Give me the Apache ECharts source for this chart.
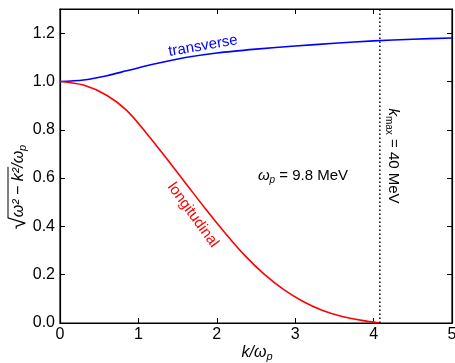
<!DOCTYPE html>
<html>
<head>
<meta charset="utf-8">
<script src="https://cdn.jsdelivr.net/npm/echarts@6/dist/echarts.min.js"></script>
<style>
html,body{margin:0;padding:0;background:#fff;}
#c{width:455px;height:363px;}
</style>
</head>
<body>
<div id="c"></div>
<script>
// ---- data ----
const kTransverse = [0, 0.3, 0.6, 0.85, 1.2, 1.6, 2.0, 2.5, 3.0, 3.5, 4.0, 4.5, 5.0];
const vTransverse = [1.000, 1.006, 1.024, 1.044, 1.072, 1.099, 1.118, 1.134, 1.147, 1.158, 1.168, 1.175, 1.180];
const kLongitudinal = [0, 0.3, 0.6, 0.85, 1.1, 1.35, 1.6, 1.85, 2.1, 2.35, 2.6, 2.85, 3.1, 3.35, 3.6, 3.85, 4.08];
const vLongitudinal = [1.0, 0.985, 0.942, 0.88, 0.787, 0.685, 0.58, 0.475, 0.375, 0.282, 0.203, 0.139, 0.089, 0.052, 0.027, 0.011, 0.0];
const kMax = [4.08];
const xRange = [0, 5];
const yRange = [0, 1.3];

const FAM = '"Liberation Sans", Arial, Helvetica, sans-serif';
const cv = document.createElement('canvas').getContext('2d');
function fontStr(p){ return (p.italic ? 'italic ' : '') + p.size + 'px ' + FAM; }
function measure(p){ cv.font = fontStr(p); return cv.measureText(p.t).width; }

function mathLabel(parts, cx, cy, rot, color, overlineIdx){
  const widths = parts.map(measure);
  const W = widths.reduce((a,b)=>a+b,0);
  let x = -W/2;
  const children = [];
  parts.forEach((p,i)=>{
    children.push({
      type:'text',
      style:{text:p.t, x:x, y:(p.dy||0), font:fontStr(p), fill:color,
             align:'left', verticalAlign:'middle', textAlign:'left', textVerticalAlign:'middle'}
    });
    if (overlineIdx === i){
      children.push({type:'line', shape:{x1:x-1, y1:-11, x2:x+widths[i]+1, y2:-11},
        style:{stroke:color, lineWidth:1}});
    }
    x += widths[i];
  });
  return {type:'group', x:cx, y:cy, rotation:rot, children:children, silent:true};
}

const chart = echarts.init(document.getElementById('c'), null, {renderer:'canvas'});

function axis(extra){
  return Object.assign({
    type:'value', gridIndex:0,
    axisLine:{show:true, onZero:false, lineStyle:{color:'#000', width:1.2}},
    axisTick:{show:true, inside:true, length:5, lineStyle:{color:'#000', width:1}},
    splitLine:{show:false}
  }, extra);
}

const option = {
  animation:false,
  backgroundColor:'#fff',
  grid:{left:60, right:3, top:9, bottom:40, containLabel:false, outerBoundsMode:'none',
        show:true, borderColor:'#000', borderWidth:1.2, backgroundColor:'transparent'},
  xAxis:[
    axis({min:xRange[0], max:xRange[1], interval:1, position:'bottom',
      axisLabel:{show:true, color:'#000', fontSize:16, fontFamily:FAM, margin:4, hideOverlap:false}}),
    axis({min:xRange[0], max:xRange[1], interval:1, position:'top',
      axisLabel:{show:false}})
  ],
  yAxis:[
    axis({min:yRange[0], max:yRange[1], interval:0.2, position:'left',
      axisLabel:{show:true, color:'#000', fontSize:16, fontFamily:FAM, margin:5,
        showMaxLabel:false, formatter:(v)=> (Math.abs(v-1.3)<1e-6 ? '' : v.toFixed(1))}}),
    axis({min:yRange[0], max:yRange[1], interval:0.2, position:'right',
      axisLabel:{show:false}})
  ],
  series:[
    {
      name:'transverse', type:'line', showSymbol:false, smooth:0.3,
      data:kTransverse.map((k,i)=>[k, vTransverse[i]]),
      lineStyle:{color:'#0000ff', width:1.6}, itemStyle:{color:'#0000ff'}
    },
    {
      name:'longitudinal', type:'line', showSymbol:false, smooth:0.3,
      data:kLongitudinal.map((k,i)=>[k, vLongitudinal[i]]),
      lineStyle:{color:'#ff0000', width:1.6}, itemStyle:{color:'#ff0000'}
    },
    {
      name:'kmax', type:'line', showSymbol:false,
      data:[[kMax[0], yRange[0]], [kMax[0], yRange[1]]],
      lineStyle:{color:'#000', width:1.5, type:[1.5,2.5]}
    }
  ],
  graphic:[
    mathLabel([
      {t:'√', size:22},
      {t:'ω² − k²', size:16, italic:true},
      {t:'/ω', size:16, italic:true},
      {t:'p', size:11, italic:true, dy:4}
    ], 19, 187, Math.PI/2, '#000', 1),
    mathLabel([
      {t:'k/ω', size:16, italic:true},
      {t:'p', size:11, italic:true, dy:4}
    ], 257, 353, 0, '#000'),
    mathLabel([{t:'transverse', size:15}], 203, 46, 0.17, '#0000ff'),
    mathLabel([{t:'longitudinal', size:15}], 193, 215, -0.94, '#ff0000'),
    mathLabel([
      {t:'ω', size:15, italic:true},
      {t:'p', size:10, italic:true, dy:4},
      {t:' = 9.8 MeV', size:15}
    ], 303, 176, 0, '#000'),
    mathLabel([
      {t:'k', size:15, italic:true},
      {t:'max', size:10, dy:4},
      {t:' = 40 MeV', size:15}
    ], 393, 156, -Math.PI/2, '#000')
  ]
};
chart.setOption(option);
</script>
</body>
</html>
